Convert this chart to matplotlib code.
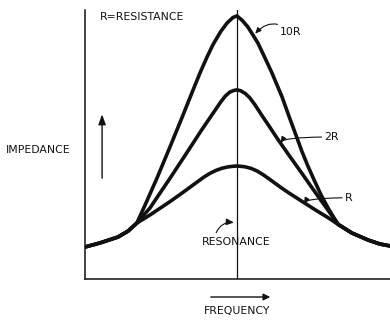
import matplotlib
matplotlib.use("Agg")
import matplotlib.pyplot as plt
from matplotlib.patches import FancyArrowPatch

# Impedance vs. frequency for a parallel resonant circuit (arbitrary units)
resonance = 4.98

# shared skirts far from resonance
tail_left_f = [0.00, 0.49, 1.08, 1.41]
tail_left_z = [1.19, 1.34, 1.56, 1.78]
tail_right_f = [8.75, 9.28, 9.67, 10.00]
tail_right_z = [1.71, 1.45, 1.30, 1.23]

freq_10r = [1.70, 1.95, 2.36, 2.79, 3.18, 3.48, 3.77, 4.00, 4.20, 4.45, 4.66, 4.85,
            4.98, 5.15, 5.34, 5.50, 5.67, 5.90, 6.13, 6.46, 6.72, 6.90, 7.11, 7.30,
            7.54, 7.75, 7.97, 8.15, 8.30]
imp_10r = [2.08, 2.70, 3.75, 4.92, 6.00, 6.85, 7.66, 8.25, 8.72, 9.20, 9.52, 9.72,
           9.78, 9.62, 9.37, 9.08, 8.77, 8.22, 7.66, 6.77, 5.95, 5.40, 4.75, 4.22,
           3.61, 3.10, 2.64, 2.30, 2.03]

freq_2r = [1.70, 2.13, 2.79, 3.44, 3.80, 4.16, 4.45, 4.60, 4.75, 4.88, 4.98, 5.10,
           5.25, 5.40, 5.57, 5.80, 6.05, 6.33, 6.72, 7.11, 7.45, 7.77, 8.05, 8.30]
imp_2r = [2.08, 2.64, 3.75, 4.87, 5.50, 6.10, 6.58, 6.80, 6.95, 7.01, 7.03, 7.00,
          6.90, 6.74, 6.48, 6.08, 5.66, 5.18, 4.55, 3.93, 3.38, 2.87, 2.43, 2.03]

freq_r = [1.70, 2.13, 2.50, 2.79, 3.20, 3.67, 3.90, 4.10, 4.30, 4.50, 4.70, 4.85,
          4.98, 5.10, 5.25, 5.45, 5.65, 5.85, 6.05, 6.23, 6.45, 6.67, 7.11, 7.55,
          7.97, 8.30]
imp_r = [2.08, 2.38, 2.66, 2.88, 3.21, 3.60, 3.79, 3.93, 4.04, 4.12, 4.17, 4.19,
         4.20, 4.19, 4.17, 4.11, 4.01, 3.87, 3.71, 3.56, 3.38, 3.21, 2.89, 2.57,
         2.28, 2.03]

ink = "#111111"
font = dict(family="DejaVu Sans", fontsize=7.8, color=ink)

fig = plt.figure(figsize=(3.9, 3.2), dpi=100)
fig.patch.set_facecolor("white")
ax = fig.add_axes([85 / 390, 41 / 320, 305 / 390, 269 / 320])
ax.set_xlim(0, 10)
ax.set_ylim(0, 10)
for side in ("top", "right"):
    ax.spines[side].set_visible(False)
for side in ("left", "bottom"):
    ax.spines[side].set_linewidth(1.1)
    ax.spines[side].set_color(ink)
ax.set_xticks([])
ax.set_yticks([])

# resonance marker
ax.axvline(resonance, color=ink, lw=0.9, zorder=1)

curve_style = dict(color=ink, lw=2.6, solid_joinstyle="round",
                   solid_capstyle="round", zorder=3)
for f, z in ((freq_r, imp_r), (freq_2r, imp_2r), (freq_10r, imp_10r)):
    ax.plot(tail_left_f + f + tail_right_f, tail_left_z + z + tail_right_z,
            **curve_style)

ax.text(0.49, 9.74, "R=RESISTANCE", ha="left", va="center", **font)

arrow_kw = dict(arrowstyle="-|>,head_length=0.45,head_width=0.2",
                color=ink, lw=0.8, shrinkA=0, shrinkB=0)

# curve labels
ax.annotate("10R", xy=(5.58, 9.12), xytext=(6.40, 9.18),
            ha="left", va="center", **font,
            arrowprops=dict(connectionstyle="arc3,rad=0.5", **arrow_kw))
ax.annotate("2R", xy=(6.42, 5.06), xytext=(7.85, 5.28),
            ha="left", va="center", **font,
            arrowprops=dict(connectionstyle="angle3,angleA=0,angleB=60", **arrow_kw))
ax.annotate("R", xy=(7.18, 2.80), xytext=(8.52, 3.02),
            ha="left", va="center", **font,
            arrowprops=dict(connectionstyle="angle3,angleA=0,angleB=60", **arrow_kw))

ax.text(4.95, 1.38, "RESONANCE", ha="center", va="center", **font)
ax.annotate("", xy=(4.88, 2.10), xytext=(4.30, 1.72),
            arrowprops=dict(connectionstyle="arc3,rad=-0.35", **arrow_kw))

# axis captions
ax.annotate("", xy=(0.56, 6.12), xytext=(0.56, 3.75),
            arrowprops=dict(arrowstyle="-|>,head_length=0.6,head_width=0.22",
                            color=ink, lw=1.0, shrinkA=0, shrinkB=0))
fig.text(38 / 390, 1 - 150 / 320, "IMPEDANCE", ha="center", va="center", **font)

fig.patches.append(FancyArrowPatch(
    (208 / 390, 1 - 297 / 320), (273 / 390, 1 - 297 / 320),
    transform=fig.transFigure, arrowstyle="-|>,head_length=4,head_width=2",
    color=ink, lw=1.0))
fig.text(237 / 390, 1 - 311 / 320, "FREQUENCY", ha="center", va="center", **font)

fig.savefig("out.png", dpi=100)
